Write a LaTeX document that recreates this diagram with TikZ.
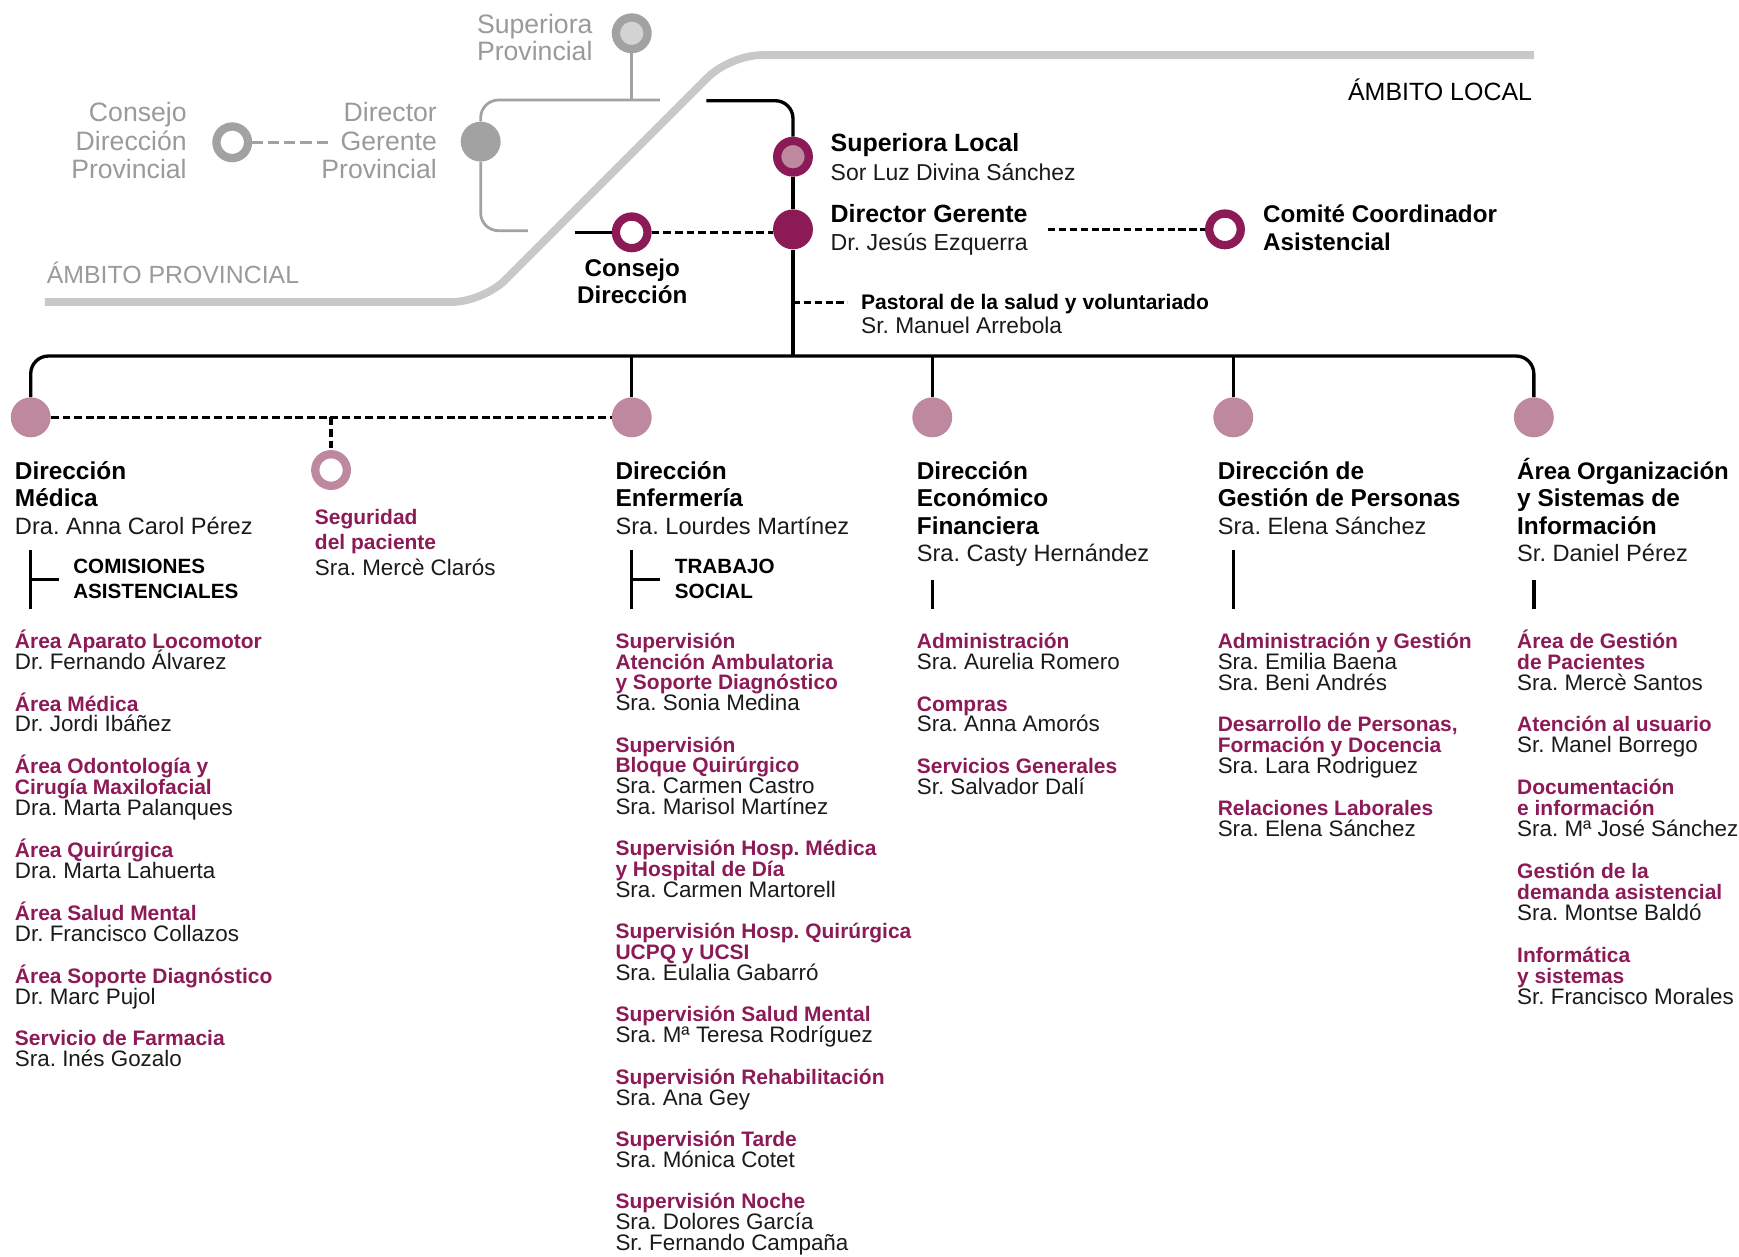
\documentclass[tikz,border=0pt]{standalone}
\usepackage{fontspec}
\setmainfont{Liberation Sans}
\usetikzlibrary{calc}
\definecolor{mag}{HTML}{8C1A56}
\definecolor{pinkc}{HTML}{BE889E}
\definecolor{gband}{HTML}{C8C8C8}
\definecolor{gline}{HTML}{A2A2A2}
\definecolor{gtext}{HTML}{9A9A9A}
\definecolor{gfill}{HTML}{D3D3D3}
\definecolor{txt}{HTML}{1A1A1A}
% vertical stack of lines, baseline = first line
\newcommand\stack[2][18.87pt]{\vtop{\baselineskip=#1\relax\lineskiplimit=-100pt\lineskip=0pt #2}}
\newcommand\ItT[1]{\hbox{\color{mag}\fontsize{18.9}{18.87}\selectfont\bfseries #1}}
\newcommand\ItN[1]{\hbox{\color{txt}\fontsize{20.2}{18.87}\selectfont #1}}
\newcommand\ItB{\hbox{}}
\newcommand\HdL[1]{\hbox{\color{black}\fontsize{22}{24.8}\selectfont\bfseries #1}}
\newcommand\HdN[1]{\hbox{\color{txt}\fontsize{21.3}{24.8}\selectfont #1}}
\newcommand\CapL[1]{\hbox{\color{black}\fontsize{18.6}{22.6}\selectfont\bfseries #1}}
\newcommand\GrR[1]{\hbox to 0pt{\hss\color{gtext}\fontsize{24}{25.5}\selectfont #1}}
\newcommand\BkC[1]{\hbox to 0pt{\hss\color{black}\fontsize{21.8}{24.6}\selectfont\bfseries #1\hss}}
\tikzset{
  blk/.style={line width=3pt, draw=black},
  dsh/.style={line width=3pt, draw=black, dash pattern=on 7pt off 3.5pt},
  gl/.style={line width=2.5pt, draw=gline},
  pdot/.style={circle, fill=pinkc, minimum size=36pt, inner sep=0pt},
  ring/.style={circle, draw=#1, line width=7.5pt, fill=white, minimum size=28.5pt, inner sep=0pt},
  txtn/.style={anchor=base west, inner sep=0pt, outer sep=0pt},
}
\begin{document}
\frenchspacing
\begin{tikzpicture}[x=1pt, y=-1pt]
\useasboundingbox (0,0) rectangle (1568,1132.6);
% scope band
\draw[line width=7pt, gband, rounded corners=28] (40.5,272.3) -- (435.7,272.3) -- (658.3,49.7) -- (1383,49.7);
\node[txtn, font=\fontsize{22.4}{24}\selectfont, text=gtext] (ambprov) at (42.3,256) {ÁMBITO PROVINCIAL};
\node[anchor=base east, inner sep=0pt, font=\fontsize{22.5}{24}\selectfont, text=black] (ambloc) at (1381.6,90.2) {ÁMBITO LOCAL};

% ---------- provincial (gray) ----------
\node[circle, draw=gline, line width=7.5pt, fill=gfill, minimum size=28.5pt, inner sep=0pt] (sp) at (569.6,30) {};
\node[circle, fill=gline, minimum size=36pt, inner sep=0pt] (dgp) at (433.4,127.7) {};
\node[ring=gline] (cdp) at (209.4,128.3) {};
\node[txtn] (sptxt) at (533.7,30) {\stack[25pt]{\GrR{Superiora}\GrR{Provincial}}};
\node[txtn] (cdptxt) at (167.8,109.7) {\stack[25.6pt]{\GrR{Consejo}\GrR{Dirección}\GrR{Provincial}}};
\node[txtn] (dgptxt) at (393.4,109.7) {\stack[25.6pt]{\GrR{Director}\GrR{Gerente}\GrR{Provincial}}};
\coordinate (gt) at (595,90.2);
\coordinate (gb) at (476,208);
\coordinate (gd) at (299,128.3);
\draw[gl] (sp) -- (sp |- gt);
\draw[gl, rounded corners=16] (gt) -- (gt -| dgp) -- (dgp);
\draw[gl, rounded corners=16] (dgp) -- (dgp |- gb) -- (gb);
\draw[gl, dash pattern=on 10pt off 4.5pt] (cdp) -- (gd);

% ---------- local top ----------
\node[circle, draw=mag, line width=7.5pt, fill=pinkc, minimum size=28.5pt, inner sep=0pt] (suploc) at (715,141.3) {};
\node[circle, fill=mag, minimum size=36pt, inner sep=0pt] (dg) at (715,206.8) {};
\node[ring=mag] (cd) at (569.6,209.5) {};
\node[ring=mag] (com) at (1104.5,206.8) {};
\node[txtn] (suptxt) at (749,136.8) {\stack[25.5pt]{\hbox{\fontsize{22.5}{25}\selectfont\bfseries Superiora Local}\hbox{\color{txt}\fontsize{20.7}{25}\selectfont Sor Luz Divina Sánchez}}};
\node[txtn] (dgtxt) at (749,200.8) {\stack[25.2pt]{\hbox{\fontsize{22.5}{25}\selectfont\bfseries Director Gerente}\hbox{\color{txt}\fontsize{20.9}{25}\selectfont Dr. Jesús Ezquerra}}};
\node[txtn] (comtxt) at (1139,200.8) {\stack[25.2pt]{\hbox{\fontsize{21.8}{25}\selectfont\bfseries Comité Coordinador}\hbox{\fontsize{21.8}{25}\selectfont\bfseries Asistencial}}};
\node[txtn] (pastxt) at (776.5,279) {\stack[21.6pt]{\hbox{\fontsize{19}{21}\selectfont\bfseries Pastoral de la salud y voluntariado}\hbox{\color{txt}\fontsize{20.5}{21}\selectfont Sr. Manuel Arrebola}}};
\node[txtn] (cdtxt) at (569.6,248.9) {\stack[25pt]{\BkC{Consejo}\BkC{Dirección}}};
\coordinate (bls) at (637,90.8);
\coordinate (cdl) at (518.5,209.5);
\coordinate (coml) at (945,206.8);
\coordinate (pj) at (715,272.6);
\coordinate (pe) at (764,272.6);
\coordinate (bj) at (715,321);
\draw[blk, rounded corners=16] (bls) -- (bls -| suploc) -- (suploc);
\draw[blk] (suploc) -- (dg);
\draw[blk] (dg) -- (bj);
\draw[blk] (cdl) -- (cd);
\draw[dsh] (cd) -- (cd -| dg.west);
\draw[dsh, dash pattern=on 6.5pt off 3.3pt] (coml) -- (com);
\draw[dsh, dash pattern=on 6.5pt off 3.3pt] (pj) -- (pe);

% ---------- directions ----------
\node[pdot] (c1) at (27.7,376.3) {};
\node[pdot] (c2) at (569.6,376.3) {};
\node[pdot] (c3) at (840.6,376.3) {};
\node[pdot] (c4) at (1112,376.3) {};
\node[pdot] (c5) at (1383,376.3) {};
\node[ring=pinkc] (seg) at (298.5,423.8) {};
\coordinate (segj) at (298.5,376.3);
\draw[blk, rounded corners=16] (c1) -- (c1 |- bj) -- (c5 |- bj) -- (c5);
\draw[blk] (c2) -- (c2 |- bj);
\draw[blk] (c3) -- (c3 |- bj);
\draw[blk] (c4) -- (c4 |- bj);
\draw[dsh] (c1) -- (c2);
\draw[dsh] (segj) -- (seg);

% headings
\node[txtn] (h1) at (13.5,432) {\stack[24.8pt]{\HdL{Dirección}\HdL{Médica}\HdN{Dra. Anna Carol Pérez}}};
\node[txtn] (h2) at (555,432) {\stack[24.8pt]{\HdL{Dirección}\HdL{Enfermería}\HdN{Sra. Lourdes Martínez}}};
\node[txtn] (h3) at (826.7,432) {\stack[24.8pt]{\HdL{Dirección}\HdL{Económico}\HdL{Financiera}\HdN{Sra. Casty Hernández}}};
\node[txtn] (h4) at (1098,432) {\stack[24.8pt]{\HdL{Dirección de}\HdL{Gestión de Personas}\HdN{Sra. Elena Sánchez}}};
\node[txtn] (h5) at (1368,432) {\stack[24.8pt]{\hbox{\fontsize{21.6}{24.8}\selectfont\bfseries Área Organización}\HdL{y Sistemas de}\HdL{Información}\HdN{Sr. Daniel Pérez}}};
\node[txtn] (segtxt) at (284,472.8) {\stack[23pt]{\ItT{Seguridad}\ItT{del paciente}\ItN{Sra. Mercè Clarós}}};

% brackets
\coordinate (b1t) at (27.7,496); \coordinate (b1b) at (27.7,549); \coordinate (b1m) at (27.7,522.4); \coordinate (b1e) at (53.5,522.4);
\coordinate (b2t) at (569.6,496); \coordinate (b2b) at (569.6,549); \coordinate (b2m) at (569.6,522.4); \coordinate (b2e) at (595.5,522.4);
\coordinate (b3t) at (840.6,523); \coordinate (b3b) at (840.6,549);
\coordinate (b4t) at (1112,496); \coordinate (b4b) at (1112,549);
\coordinate (b5t) at (1383,523); \coordinate (b5b) at (1383,549);
\draw[blk] (b1t) -- (b1b); \draw[blk] (b1m) -- (b1e);
\draw[blk] (b2t) -- (b2b); \draw[blk] (b2m) -- (b2e);
\draw[blk] (b3t) -- (b3b);
\draw[blk] (b4t) -- (b4b);
\draw[blk] (b5t) -- (b5b);
\node[txtn] (comis) at (66.1,517) {\stack[22.6pt]{\CapL{COMISIONES}\CapL{ASISTENCIALES}}};
\node[txtn] (trab) at (608.6,517) {\stack[22.6pt]{\CapL{TRABAJO}\CapL{SOCIAL}}};

% item columns
\node[txtn] (l1) at (13.5,584.5) {\stack{%
\ItT{Área Aparato Locomotor}\ItN{Dr. Fernando Álvarez}\ItB
\ItT{Área Médica}\ItN{Dr. Jordi Ibáñez}\ItB
\ItT{Área Odontología y}\ItT{Cirugía Maxilofacial}\ItN{Dra. Marta Palanques}\ItB
\ItT{Área Quirúrgica}\ItN{Dra. Marta Lahuerta}\ItB
\ItT{Área Salud Mental}\ItN{Dr. Francisco Collazos}\ItB
\ItT{Área Soporte Diagnóstico}\ItN{Dr. Marc Pujol}\ItB
\ItT{Servicio de Farmacia}\ItN{Sra. Inés Gozalo}}};
\node[txtn] (l2) at (555,584.5) {\stack[18.72pt]{%
\ItT{Supervisión}\ItT{Atención Ambulatoria}\ItT{y Soporte Diagnóstico}\ItN{Sra. Sonia Medina}\ItB
\ItT{Supervisión}\ItT{Bloque Quirúrgico}\ItN{Sra. Carmen Castro}\ItN{Sra. Marisol Martínez}\ItB
\ItT{Supervisión Hosp. Médica}\ItT{y Hospital de Día}\ItN{Sra. Carmen Martorell}\ItB
\ItT{Supervisión Hosp. Quirúrgica}\ItT{UCPQ y UCSI}\ItN{Sra. Eulalia Gabarró}\ItB
\ItT{Supervisión Salud Mental}\ItN{Sra. Mª Teresa Rodríguez}\ItB
\ItT{Supervisión Rehabilitación}\ItN{Sra. Ana Gey}\ItB
\ItT{Supervisión Tarde}\ItN{Sra. Mónica Cotet}\ItB
\ItT{Supervisión Noche}\ItN{Sra. Dolores García}\ItN{Sr. Fernando Campaña}}};
\node[txtn] (l3) at (826.7,584.5) {\stack{%
\ItT{Administración}\ItN{Sra. Aurelia Romero}\ItB
\ItT{Compras}\ItN{Sra. Anna Amorós}\ItB
\ItT{Servicios Generales}\ItN{Sr. Salvador Dalí}}};
\node[txtn] (l4) at (1098,584.5) {\stack{%
\ItT{Administración y Gestión}\ItN{Sra. Emilia Baena}\ItN{Sra. Beni Andrés}\ItB
\ItT{Desarrollo de Personas,}\ItT{Formación y Docencia}\ItN{Sra. Lara Rodriguez}\ItB
\ItT{Relaciones Laborales}\ItN{Sra. Elena Sánchez}}};
\node[txtn] (l5) at (1368,584.5) {\stack{%
\ItT{Área de Gestión}\ItT{de Pacientes}\ItN{Sra. Mercè Santos}\ItB
\ItT{Atención al usuario}\ItN{Sr. Manel Borrego}\ItB
\ItT{Documentación}\ItT{e información}\ItN{Sra. Mª José Sánchez}\ItB
\ItT{Gestión de la}\ItT{demanda asistencial}\ItN{Sra. Montse Baldó}\ItB
\ItT{Informática}\ItT{y sistemas}\ItN{Sr. Francisco Morales}}};
\end{tikzpicture}
\end{document}
